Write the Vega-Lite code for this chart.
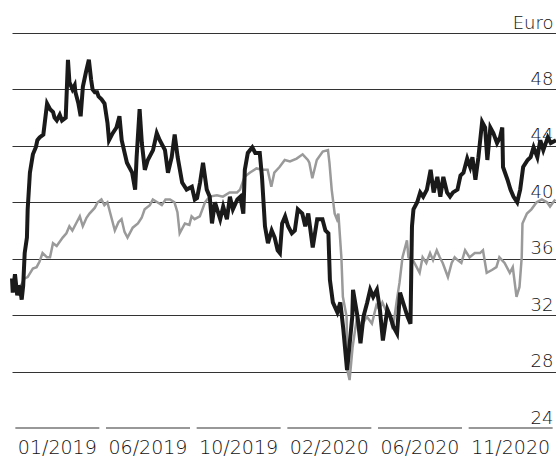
{
  "$schema": "https://vega.github.io/schema/vega-lite/v6.json",
  "width": 544,
  "height": 395,
  "autosize": {"type": "none"},
  "padding": {"left": 12, "top": 33, "right": 0, "bottom": 28},
  "background": "white",
  "config": {"view": {"stroke": null}},
  "datasets": {
    "black": [
      {"d":"2019-01-01","v":34.6},{"d":"2019-01-02","v":33.6},{"d":"2019-01-05","v":34.9},{"d":"2019-01-08","v":33.4},{"d":"2019-01-10","v":34.1},{"d":"2019-01-12","v":33.8},{"d":"2019-01-14","v":33.1},{"d":"2019-01-16","v":34.1},{"d":"2019-01-18","v":36.4},{"d":"2019-01-21","v":37.5},{"d":"2019-01-22","v":39.5},{"d":"2019-01-25","v":42.1},{"d":"2019-01-29","v":43.4},{"d":"2019-02-02","v":43.9},{"d":"2019-02-04","v":44.4},{"d":"2019-02-07","v":44.6},{"d":"2019-02-12","v":44.8},{"d":"2019-02-17","v":47.0},{"d":"2019-02-21","v":46.6},{"d":"2019-02-25","v":46.4},{"d":"2019-02-27","v":46.0},{"d":"2019-03-02","v":45.8},{"d":"2019-03-06","v":46.2},{"d":"2019-03-09","v":45.8},{"d":"2019-03-14","v":46.0},{"d":"2019-03-17","v":50.1},{"d":"2019-03-19","v":48.5},{"d":"2019-03-23","v":48.0},{"d":"2019-03-26","v":48.3},{"d":"2019-03-27","v":47.8},{"d":"2019-03-31","v":47.0},{"d":"2019-04-03","v":46.1},{"d":"2019-04-06","v":48.2},{"d":"2019-04-10","v":49.2},{"d":"2019-04-14","v":50.1},{"d":"2019-04-17","v":48.7},{"d":"2019-04-19","v":48.0},{"d":"2019-04-22","v":47.8},{"d":"2019-04-25","v":47.8},{"d":"2019-04-27","v":47.5},{"d":"2019-05-01","v":47.3},{"d":"2019-05-05","v":47.0},{"d":"2019-05-09","v":45.6},{"d":"2019-05-11","v":44.4},{"d":"2019-05-16","v":44.9},{"d":"2019-05-21","v":45.3},{"d":"2019-05-25","v":46.1},{"d":"2019-05-28","v":44.4},{"d":"2019-06-04","v":42.8},{"d":"2019-06-11","v":42.1},{"d":"2019-06-15","v":40.9},{"d":"2019-06-17","v":43.2},{"d":"2019-06-21","v":46.6},{"d":"2019-06-24","v":44.2},{"d":"2019-06-28","v":42.3},{"d":"2019-07-02","v":43.0},{"d":"2019-07-09","v":43.7},{"d":"2019-07-14","v":44.9},{"d":"2019-07-18","v":44.4},{"d":"2019-07-25","v":43.7},{"d":"2019-07-29","v":42.1},{"d":"2019-08-03","v":43.2},{"d":"2019-08-07","v":44.8},{"d":"2019-08-11","v":43.2},{"d":"2019-08-17","v":41.4},{"d":"2019-08-23","v":40.9},{"d":"2019-08-30","v":41.1},{"d":"2019-09-03","v":40.2},{"d":"2019-09-06","v":40.3},{"d":"2019-09-10","v":41.4},{"d":"2019-09-14","v":42.8},{"d":"2019-09-19","v":40.9},{"d":"2019-09-23","v":40.4},{"d":"2019-09-26","v":38.5},{"d":"2019-09-30","v":40.0},{"d":"2019-10-07","v":38.8},{"d":"2019-10-11","v":39.7},{"d":"2019-10-16","v":38.8},{"d":"2019-10-20","v":40.4},{"d":"2019-10-24","v":39.5},{"d":"2019-10-30","v":40.2},{"d":"2019-11-03","v":40.4},{"d":"2019-11-07","v":39.2},{"d":"2019-11-09","v":42.3},{"d":"2019-11-13","v":43.5},{"d":"2019-11-19","v":43.9},{"d":"2019-11-23","v":43.5},{"d":"2019-11-29","v":43.5},{"d":"2019-12-02","v":41.8},{"d":"2019-12-06","v":38.3},{"d":"2019-12-10","v":37.1},{"d":"2019-12-15","v":38.0},{"d":"2019-12-19","v":37.5},{"d":"2019-12-23","v":36.6},{"d":"2019-12-26","v":36.4},{"d":"2019-12-29","v":38.5},{"d":"2020-01-02","v":39.0},{"d":"2020-01-06","v":38.3},{"d":"2020-01-11","v":37.8},{"d":"2020-01-15","v":38.0},{"d":"2020-01-19","v":39.5},{"d":"2020-01-25","v":39.2},{"d":"2020-01-29","v":38.3},{"d":"2020-02-02","v":39.2},{"d":"2020-02-08","v":36.8},{"d":"2020-02-14","v":38.8},{"d":"2020-02-21","v":38.8},{"d":"2020-02-25","v":38.0},{"d":"2020-02-29","v":37.8},{"d":"2020-03-02","v":34.5},{"d":"2020-03-06","v":32.9},{"d":"2020-03-12","v":32.2},{"d":"2020-03-16","v":32.9},{"d":"2020-03-20","v":31.0},{"d":"2020-03-25","v":28.1},{"d":"2020-03-26","v":28.6},{"d":"2020-04-01","v":31.9},{"d":"2020-04-02","v":33.8},{"d":"2020-04-08","v":31.9},{"d":"2020-04-12","v":30.0},{"d":"2020-04-16","v":31.9},{"d":"2020-04-21","v":32.9},{"d":"2020-04-25","v":33.8},{"d":"2020-04-29","v":33.3},{"d":"2020-05-04","v":33.8},{"d":"2020-05-08","v":32.4},{"d":"2020-05-12","v":30.2},{"d":"2020-05-18","v":32.4},{"d":"2020-05-22","v":31.9},{"d":"2020-05-26","v":31.2},{"d":"2020-05-31","v":30.7},{"d":"2020-06-04","v":33.6},{"d":"2020-06-08","v":32.9},{"d":"2020-06-14","v":31.9},{"d":"2020-06-18","v":31.4},{"d":"2020-06-20","v":38.3},{"d":"2020-06-22","v":39.5},{"d":"2020-06-27","v":40.0},{"d":"2020-07-01","v":40.7},{"d":"2020-07-05","v":40.4},{"d":"2020-07-10","v":40.9},{"d":"2020-07-15","v":42.3},{"d":"2020-07-19","v":40.7},{"d":"2020-07-24","v":41.8},{"d":"2020-07-28","v":40.4},{"d":"2020-08-01","v":41.8},{"d":"2020-08-06","v":40.7},{"d":"2020-08-10","v":40.4},{"d":"2020-08-14","v":40.7},{"d":"2020-08-20","v":40.9},{"d":"2020-08-24","v":41.9},{"d":"2020-08-28","v":42.1},{"d":"2020-09-02","v":43.1},{"d":"2020-09-06","v":42.5},{"d":"2020-09-09","v":43.2},{"d":"2020-09-13","v":41.6},{"d":"2020-09-17","v":43.2},{"d":"2020-09-22","v":45.7},{"d":"2020-09-26","v":45.3},{"d":"2020-09-29","v":43.0},{"d":"2020-10-03","v":45.3},{"d":"2020-10-07","v":44.9},{"d":"2020-10-12","v":44.2},{"d":"2020-10-16","v":44.6},{"d":"2020-10-19","v":45.3},{"d":"2020-10-20","v":42.5},{"d":"2020-10-26","v":41.6},{"d":"2020-10-30","v":40.9},{"d":"2020-11-03","v":40.4},{"d":"2020-11-08","v":40.0},{"d":"2020-11-12","v":40.9},{"d":"2020-11-16","v":42.5},{"d":"2020-11-22","v":43.0},{"d":"2020-11-26","v":43.2},{"d":"2020-11-30","v":43.9},{"d":"2020-12-05","v":43.2},{"d":"2020-12-09","v":44.4},{"d":"2020-12-13","v":43.7},{"d":"2020-12-19","v":44.6},{"d":"2020-12-23","v":44.2},{"d":"2020-12-30","v":44.4}
    ],
    "grey": [
      {"d":"2019-01-01","v":34.5},{"d":"2019-01-06","v":33.8},{"d":"2019-01-12","v":34.0},{"d":"2019-01-18","v":34.6},{"d":"2019-01-22","v":34.7},{"d":"2019-01-29","v":35.3},{"d":"2019-02-03","v":35.4},{"d":"2019-02-07","v":35.8},{"d":"2019-02-11","v":36.4},{"d":"2019-02-17","v":36.1},{"d":"2019-02-21","v":36.1},{"d":"2019-02-25","v":37.1},{"d":"2019-03-02","v":36.9},{"d":"2019-03-10","v":37.5},{"d":"2019-03-15","v":37.8},{"d":"2019-03-19","v":38.3},{"d":"2019-03-23","v":38.0},{"d":"2019-03-29","v":38.6},{"d":"2019-04-02","v":39.0},{"d":"2019-04-06","v":38.3},{"d":"2019-04-11","v":38.9},{"d":"2019-04-15","v":39.2},{"d":"2019-04-22","v":39.6},{"d":"2019-04-26","v":40.0},{"d":"2019-05-01","v":40.2},{"d":"2019-05-05","v":39.8},{"d":"2019-05-09","v":40.0},{"d":"2019-05-15","v":38.8},{"d":"2019-05-19","v":38.0},{"d":"2019-05-24","v":38.6},{"d":"2019-05-28","v":38.8},{"d":"2019-06-01","v":37.9},{"d":"2019-06-05","v":37.5},{"d":"2019-06-12","v":38.2},{"d":"2019-06-19","v":38.5},{"d":"2019-06-24","v":38.9},{"d":"2019-06-28","v":39.5},{"d":"2019-07-05","v":39.8},{"d":"2019-07-09","v":40.2},{"d":"2019-07-15","v":40.0},{"d":"2019-07-21","v":39.8},{"d":"2019-07-26","v":40.2},{"d":"2019-08-01","v":40.2},{"d":"2019-08-07","v":40.0},{"d":"2019-08-11","v":39.3},{"d":"2019-08-14","v":37.8},{"d":"2019-08-21","v":38.5},{"d":"2019-08-27","v":38.4},{"d":"2019-08-30","v":39.0},{"d":"2019-09-03","v":38.8},{"d":"2019-09-10","v":39.0},{"d":"2019-09-17","v":40.0},{"d":"2019-09-23","v":40.4},{"d":"2019-10-03","v":40.5},{"d":"2019-10-11","v":40.4},{"d":"2019-10-20","v":40.7},{"d":"2019-10-30","v":40.7},{"d":"2019-11-03","v":40.9},{"d":"2019-11-09","v":41.8},{"d":"2019-11-16","v":42.1},{"d":"2019-11-25","v":42.4},{"d":"2019-12-03","v":42.3},{"d":"2019-12-10","v":42.3},{"d":"2019-12-15","v":41.1},{"d":"2019-12-19","v":42.1},{"d":"2019-12-26","v":42.5},{"d":"2020-01-02","v":43.0},{"d":"2020-01-09","v":42.9},{"d":"2020-01-18","v":43.1},{"d":"2020-01-26","v":43.4},{"d":"2020-02-02","v":43.0},{"d":"2020-02-04","v":42.8},{"d":"2020-02-08","v":41.7},{"d":"2020-02-14","v":43.0},{"d":"2020-02-22","v":43.6},{"d":"2020-02-29","v":43.7},{"d":"2020-03-02","v":42.8},{"d":"2020-03-05","v":40.9},{"d":"2020-03-09","v":39.2},{"d":"2020-03-12","v":38.8},{"d":"2020-03-14","v":39.2},{"d":"2020-03-18","v":36.1},{"d":"2020-03-20","v":33.3},{"d":"2020-03-25","v":31.9},{"d":"2020-03-26","v":28.1},{"d":"2020-03-29","v":27.4},{"d":"2020-04-02","v":29.7},{"d":"2020-04-08","v":31.9},{"d":"2020-04-14","v":31.2},{"d":"2020-04-21","v":31.9},{"d":"2020-04-28","v":31.4},{"d":"2020-05-04","v":32.7},{"d":"2020-05-08","v":32.4},{"d":"2020-05-12","v":32.9},{"d":"2020-05-18","v":32.2},{"d":"2020-05-22","v":31.9},{"d":"2020-05-26","v":31.0},{"d":"2020-05-31","v":32.9},{"d":"2020-06-04","v":34.3},{"d":"2020-06-08","v":36.1},{"d":"2020-06-14","v":37.3},{"d":"2020-06-16","v":36.1},{"d":"2020-06-22","v":35.9},{"d":"2020-06-27","v":35.4},{"d":"2020-07-01","v":35.0},{"d":"2020-07-05","v":36.1},{"d":"2020-07-10","v":35.7},{"d":"2020-07-15","v":36.4},{"d":"2020-07-19","v":35.9},{"d":"2020-07-24","v":36.6},{"d":"2020-07-28","v":36.1},{"d":"2020-08-01","v":35.7},{"d":"2020-08-08","v":34.7},{"d":"2020-08-13","v":35.7},{"d":"2020-08-17","v":36.1},{"d":"2020-08-21","v":35.9},{"d":"2020-08-26","v":35.7},{"d":"2020-08-31","v":36.6},{"d":"2020-09-06","v":36.1},{"d":"2020-09-13","v":36.4},{"d":"2020-09-20","v":36.4},{"d":"2020-09-24","v":36.6},{"d":"2020-09-29","v":35.0},{"d":"2020-10-06","v":35.2},{"d":"2020-10-12","v":35.4},{"d":"2020-10-16","v":36.1},{"d":"2020-10-23","v":35.7},{"d":"2020-10-30","v":35.0},{"d":"2020-11-03","v":35.4},{"d":"2020-11-08","v":33.3},{"d":"2020-11-12","v":34.0},{"d":"2020-11-15","v":36.1},{"d":"2020-11-16","v":38.5},{"d":"2020-11-22","v":39.2},{"d":"2020-11-28","v":39.5},{"d":"2020-12-05","v":40.0},{"d":"2020-12-12","v":40.2},{"d":"2020-12-19","v":40.0},{"d":"2020-12-23","v":39.7},{"d":"2020-12-30","v":40.2}
    ],
    "months": [
      {"m":"01/2019"},{"m":"06/2019"},{"m":"10/2019"},{"m":"02/2020"},{"m":"06/2020"},{"m":"11/2020"}
    ]
  },
  "resolve": {"scale": {"x": "independent"}, "axis": {"x": "independent"}},
  "layer": [
    {
      "data": {"name": "months"},
      "mark": {"type": "tick", "size": 84, "thickness": 1, "color": "#333333", "opacity": 1},
      "encoding": {
        "x": {"field": "m", "type": "ordinal", "sort": null,
              "scale": {"paddingInner": 0, "paddingOuter": 0},
              "axis": {"orient": "bottom", "title": null, "domain": false, "ticks": false, "labelAngle": 0,
                       "labelPadding": 10, "labelFont": "DejaVu Sans", "labelFontSize": 19, "labelFontWeight": 200, "labelColor": "#111111"}},
        "y": {"datum": 24, "type": "quantitative"}
      }
    },
    {
      "data": {"name": "grey"},
      "mark": {"type": "line", "color": "#9a9a9a", "strokeWidth": 2.5},
      "encoding": {
        "x": {"field": "d", "type": "temporal", "axis": null,
              "scale": {"domain": [{"year": 2019, "month": 1, "date": 1, "utc": true}, {"year": 2020, "month": 12, "date": 31, "utc": true}]}},
        "y": {"field": "v", "type": "quantitative",
              "scale": {"domain": [24, 52], "nice": false, "zero": false},
              "axis": {"orient": "right", "title": null, "values": [24, 28, 32, 36, 40, 44, 48, 52],
                       "grid": true, "gridColor": "#333333", "gridWidth": 1,
                       "gridOpacity": {"condition": {"test": "datum.value == 24", "value": 0}, "value": 1},
                       "domain": false, "ticks": false, "tickSize": 0,
                       "labelAlign": "right", "labelBaseline": "alphabetic", "labelPadding": -3, "labelOffset": -5,
                       "labelExpr": "datum.value == 52 ? 'Euro' : datum.label",
                       "labelFont": "DejaVu Sans", "labelFontSize": 18, "labelFontWeight": 200, "labelColor": "#111111",
                       "labelBound": false, "labelFlush": false, "labelOverlap": false}}
      }
    },
    {
      "data": {"name": "black"},
      "mark": {"type": "line", "color": "#1a1a1a", "strokeWidth": 4},
      "encoding": {
        "x": {"field": "d", "type": "temporal", "axis": null},
        "y": {"field": "v", "type": "quantitative"}
      }
    }
  ]
}
